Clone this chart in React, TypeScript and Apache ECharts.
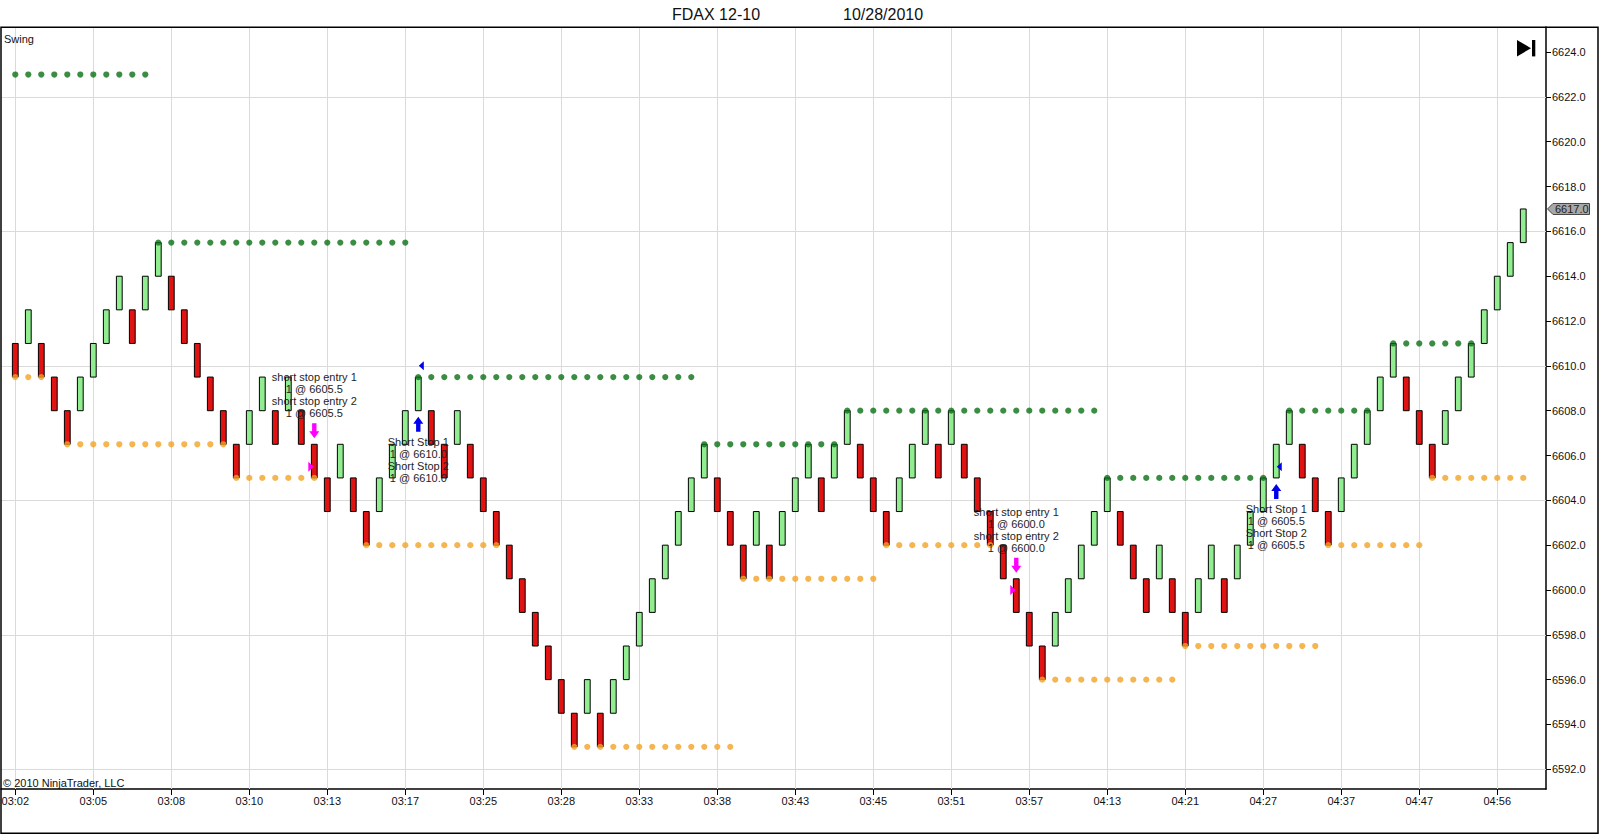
import React, { useEffect, useRef } from "react";
import * as echarts from "echarts";

// ---------- data ----------
const titleSymbol = "FDAX 12-10";
const titleDate = "10/28/2010";
const indicatorName = "Swing";
const copyrightText = "© 2010 NinjaTrader, LLC";

const timeLabels = [
  "03:02", "03:05", "03:08", "03:10", "03:13", "03:17", "03:25", "03:28", "03:33", "03:38",
  "03:43", "03:45", "03:51", "03:57", "04:13", "04:21", "04:27", "04:37", "04:47", "04:56",
];
const barsPerLabel = 6;

const priceTicks = [
  6592, 6594, 6596, 6598, 6600, 6602, 6604, 6606, 6608, 6610, 6612, 6614, 6616, 6618, 6620, 6622, 6624,
];
const priceGrid = [6592, 6598, 6604, 6610, 6616, 6622];
const lastPrice = 6617.0;

// renko bricks (1.5 pt)
const opens = [
  6611, 6611, 6611, 6609.5, 6608, 6608, 6609.5, 6611, 6612.5, 6612.5,
  6612.5, 6614, 6614, 6612.5, 6611, 6609.5, 6608, 6606.5, 6606.5, 6608,
  6608, 6608, 6608, 6606.5, 6605, 6605, 6605, 6603.5, 6603.5, 6605,
  6606.5, 6608, 6608, 6606.5, 6606.5, 6606.5, 6605, 6603.5, 6602, 6600.5,
  6599, 6597.5, 6596, 6594.5, 6594.5, 6594.5, 6594.5, 6596, 6597.5, 6599,
  6600.5, 6602, 6603.5, 6605, 6605, 6603.5, 6602, 6602, 6602, 6602,
  6603.5, 6605, 6605, 6605, 6606.5, 6606.5, 6605, 6603.5, 6603.5, 6605,
  6606.5, 6606.5, 6606.5, 6606.5, 6605, 6603.5, 6602, 6600.5, 6599, 6597.5,
  6597.5, 6599, 6600.5, 6602, 6603.5, 6603.5, 6602, 6600.5, 6600.5, 6600.5,
  6599, 6599, 6600.5, 6600.5, 6600.5, 6602, 6603.5, 6605, 6606.5, 6606.5,
  6605, 6603.5, 6603.5, 6605, 6606.5, 6608, 6609.5, 6609.5, 6608, 6606.5,
  6606.5, 6608, 6609.5, 6611, 6612.5, 6614, 6615.5,
];
const closes = [
  6609.5, 6612.5, 6609.5, 6608, 6606.5, 6609.5, 6611, 6612.5, 6614, 6611,
  6614, 6615.5, 6612.5, 6611, 6609.5, 6608, 6606.5, 6605, 6608, 6609.5,
  6606.5, 6609.5, 6606.5, 6605, 6603.5, 6606.5, 6603.5, 6602, 6605, 6606.5,
  6608, 6609.5, 6606.5, 6605, 6608, 6605, 6603.5, 6602, 6600.5, 6599,
  6597.5, 6596, 6594.5, 6593, 6596, 6593, 6596, 6597.5, 6599, 6600.5,
  6602, 6603.5, 6605, 6606.5, 6603.5, 6602, 6600.5, 6603.5, 6600.5, 6603.5,
  6605, 6606.5, 6603.5, 6606.5, 6608, 6605, 6603.5, 6602, 6605, 6606.5,
  6608, 6605, 6608, 6605, 6603.5, 6602, 6600.5, 6599, 6597.5, 6596,
  6599, 6600.5, 6602, 6603.5, 6605, 6602, 6600.5, 6599, 6602, 6599,
  6597.5, 6600.5, 6602, 6599, 6602, 6603.5, 6605, 6606.5, 6608, 6605,
  6603.5, 6602, 6605, 6606.5, 6608, 6609.5, 6611, 6608, 6606.5, 6605,
  6608, 6609.5, 6611, 6612.5, 6614, 6615.5, 6617,
];

// Swing indicator: swing highs (green) and swing lows (orange)
const swingHighStart = [0, 11, 31, 53, 64, 84, 98, 106];
const swingHighEnd = [10, 30, 52, 63, 83, 96, 104, 112];
const swingHighPrice = [6623, 6615.5, 6609.5, 6606.5, 6608, 6605, 6608, 6611];
const swingLowStart = [0, 4, 17, 27, 43, 56, 67, 79, 90, 101, 109];
const swingLowEnd = [2, 16, 23, 37, 55, 66, 75, 89, 100, 108, 116];
const swingLowPrice = [6609.5, 6606.5, 6605, 6602, 6593, 6600.5, 6602, 6596, 6597.5, 6602, 6605];

// executions
const signalBars = [23, 31, 77, 97];
const signalKinds = ["entry", "exit", "entry", "exit"];
const signalFills = [6605.5, 6610.0, 6600.0, 6605.5];
const signalTexts = [
  ["short stop entry 1", "1 @ 6605.5", "short stop entry 2", "1 @ 6605.5"],
  ["Short Stop 1", "1 @ 6610.0", "Short Stop 2", "1 @ 6610.0"],
  ["short stop entry 1", "1 @ 6600.0", "short stop entry 2", "1 @ 6600.0"],
  ["Short Stop 1", "1 @ 6605.5", "Short Stop 2", "1 @ 6605.5"],
];

// ---------- styles ----------
const FONT = "Arial, 'Liberation Sans', Helvetica, sans-serif";
const UP = "#90ee90";
const DOWN = "#e01212";
const HIGH_DOT = "#0a7015";
const LOW_DOT = "#f2a324";
const GRID = "#dadada";
const ENTRY = "#ff00ff";
const EXIT = "#0000ee";

export default function App() {
  const ref = useRef<HTMLDivElement>(null);

  useEffect(() => {
    document.body.style.margin = "0";
    const chart = echarts.init(ref.current as HTMLDivElement, null, { renderer: "svg" });

    const tickIdx = timeLabels.map((_, k) => k * barsPerLabel);
    const bars = opens.map((o, i) => [i, o, closes[i]]);
    const highDots: number[][] = [];
    swingHighStart.forEach((s, k) => {
      for (let i = s; i <= swingHighEnd[k]; i++) highDots.push([i, swingHighPrice[k]]);
    });
    const lowDots: number[][] = [];
    swingLowStart.forEach((s, k) => {
      for (let i = s; i <= swingLowEnd[k]; i++) lowDots.push([i, swingLowPrice[k]]);
    });
    const signals = signalBars.map((b, k) => [b, signalFills[k], k]);

    const option: any = {
      animation: false,
      backgroundColor: "#ffffff",
      grid: { left: 1, right: 54, top: 27, bottom: 46, containLabel: false, outerBoundsMode: "none" },
      xAxis: {
        type: "value",
        min: -1.1,
        max: 117.75,
        axisLine: { show: true, onZero: false, lineStyle: { color: "#000", width: 1.5 } },
        axisTick: { show: true, customValues: tickIdx, length: 6, lineStyle: { color: "#000", width: 1 } },
        axisLabel: {
          customValues: tickIdx,
          formatter: (v: number) => timeLabels[Math.round(v / barsPerLabel)] ?? "",
          color: "#111",
          fontSize: 11,
          fontFamily: FONT,
          margin: 6,
        },
        splitLine: { show: false },
      },
      yAxis: {
        type: "value",
        position: "right",
        min: 6591.12,
        max: 6625.12,
        axisLine: { show: true, onZero: false, lineStyle: { color: "#000", width: 1.5 } },
        axisTick: { show: true, customValues: priceTicks, length: 5, lineStyle: { color: "#000", width: 1 } },
        axisLabel: {
          customValues: priceTicks,
          formatter: (v: number) => v.toFixed(1),
          color: "#111",
          fontSize: 11,
          fontFamily: FONT,
          margin: 6,
        },
        splitLine: { show: false },
      },
      series: [
        {
          type: "custom",
          name: "bars",
          z: 2,
          silent: true,
          data: bars,
          encode: { x: 0, y: [1, 2] },
          renderItem: (params: any, api: any) => {
            const i = api.value(0);
            const o = api.value(1);
            const c = api.value(2);
            const top = api.coord([i, Math.max(o, c)]);
            const bot = api.coord([i, Math.min(o, c)]);
            const w = 5.8;
            return {
              type: "rect",
              shape: { x: top[0] - w / 2, y: top[1], width: w, height: bot[1] - top[1] },
              style: { fill: c > o ? UP : DOWN, stroke: "#000", lineWidth: 1 },
            };
          },
        },
        {
          type: "scatter",
          name: "swingHigh",
          z: 3,
          silent: true,
          symbol: "circle",
          symbolSize: 6.2,
          itemStyle: { color: HIGH_DOT },
          data: highDots,
          markLine: {
            silent: true,
            z: 1,
            symbol: ["none", "none"],
            label: { show: false },
            emphasis: { disabled: true },
            lineStyle: { color: GRID, width: 1, type: "solid" },
            data: [
              ...tickIdx.map((v) => ({ xAxis: v })),
              ...priceGrid.map((v) => ({ yAxis: v })),
            ],
          },
        },
        {
          type: "scatter",
          name: "swingLow",
          z: 3,
          silent: true,
          symbol: "circle",
          symbolSize: 6.2,
          itemStyle: { color: LOW_DOT },
          data: lowDots,
        },
        {
          type: "custom",
          name: "signals",
          z: 4,
          silent: true,
          data: signals,
          encode: { x: 0, y: 1 },
          renderItem: (params: any, api: any) => {
            const b = api.value(0);
            const fill = api.value(1);
            const k = api.value(2);
            const kind = signalKinds[k];
            const texts = signalTexts[k];
            const o = opens[b];
            const c = closes[b];
            const cx = api.coord([b, fill])[0];
            const py = api.coord([b, fill])[1];
            const yT = api.coord([b, Math.max(o, c)])[1];
            const yB = api.coord([b, Math.min(o, c)])[1];
            const children: any[] = [];
            if (kind === "entry") {
              const y0 = yT - 21;
              children.push({
                type: "polygon",
                shape: {
                  points: [
                    [cx - 2.2, y0], [cx + 2.2, y0], [cx + 2.2, y0 + 8], [cx + 5, y0 + 8],
                    [cx, y0 + 15], [cx - 5, y0 + 8], [cx - 2.2, y0 + 8],
                  ],
                },
                style: { fill: ENTRY },
              });
              children.push({
                type: "polygon",
                shape: { points: [[cx - 6, py - 5], [cx - 0.5, py], [cx - 6, py + 5]] },
                style: { fill: ENTRY },
              });
              texts.forEach((t, j) => {
                children.push({
                  type: "text",
                  x: cx,
                  y: yT - 67 + j * 12,
                  style: { text: t, fill: "#1e1e1e", fontSize: 11, fontFamily: FONT, align: "center", verticalAlign: "middle" },
                });
              });
            } else {
              const y0 = yB + 6;
              children.push({
                type: "polygon",
                shape: {
                  points: [
                    [cx, y0], [cx + 5, y0 + 7], [cx + 2.2, y0 + 7], [cx + 2.2, y0 + 15],
                    [cx - 2.2, y0 + 15], [cx - 2.2, y0 + 7], [cx - 5, y0 + 7],
                  ],
                },
                style: { fill: EXIT },
              });
              children.push({
                type: "polygon",
                shape: { points: [[cx + 0.5, py], [cx + 5.5, py - 4.5], [cx + 5.5, py + 4.5]] },
                style: { fill: EXIT },
              });
              texts.forEach((t, j) => {
                children.push({
                  type: "text",
                  x: cx,
                  y: yB + 31 + j * 12,
                  style: { text: t, fill: "#1e1e1e", fontSize: 11, fontFamily: FONT, align: "center", verticalAlign: "middle" },
                });
              });
            }
            return { type: "group", children };
          },
        },
      ],
    };

    chart.setOption(option);

    const ty = chart.convertToPixel({ yAxisIndex: 0 } as any, lastPrice) as unknown as number;
    chart.setOption({
      graphic: [
        {
          type: "rect",
          z: 50,
          silent: true,
          shape: { x: 1, y: 27.3, width: 1597, height: 806 },
          style: { fill: "none", stroke: "#000", lineWidth: 1.5 },
        },
        {
          type: "text",
          z: 50,
          x: 672,
          y: 14,
          style: { text: titleSymbol, fill: "#111", fontSize: 16, fontFamily: FONT, align: "left", verticalAlign: "middle" },
        },
        {
          type: "text",
          z: 50,
          x: 843,
          y: 14,
          style: { text: titleDate, fill: "#111", fontSize: 16, fontFamily: FONT, align: "left", verticalAlign: "middle" },
        },
        {
          type: "text",
          z: 50,
          x: 4,
          y: 39,
          style: { text: indicatorName, fill: "#111", fontSize: 11, fontFamily: FONT, align: "left", verticalAlign: "middle" },
        },
        {
          type: "text",
          z: 50,
          x: 3,
          y: 783,
          style: { text: copyrightText, fill: "#111", fontSize: 11, fontFamily: FONT, align: "left", verticalAlign: "middle" },
        },
        {
          type: "polygon",
          z: 50,
          shape: { points: [[1517, 40], [1531, 48.2], [1517, 56.4]] },
          style: { fill: "#000" },
        },
        {
          type: "rect",
          z: 50,
          shape: { x: 1532, y: 40, width: 3.3, height: 16.4 },
          style: { fill: "#000" },
        },
        {
          type: "polygon",
          z: 50,
          shape: {
            points: [[1547.5, ty], [1553, ty - 5.5], [1589.5, ty - 5.5], [1589.5, ty + 5.5], [1553, ty + 5.5]],
          },
          style: { fill: "#a8a8a8", stroke: "#444", lineWidth: 1 },
        },
        {
          type: "text",
          z: 51,
          x: 1555,
          y: ty,
          style: { text: lastPrice.toFixed(1), fill: "#222", fontSize: 11, fontFamily: FONT, align: "left", verticalAlign: "middle" },
        },
      ],
    });

    return () => {
      chart.dispose();
    };
  }, []);

  return <div ref={ref} style={{ width: 1600, height: 835, background: "#fff" }} />;
}
